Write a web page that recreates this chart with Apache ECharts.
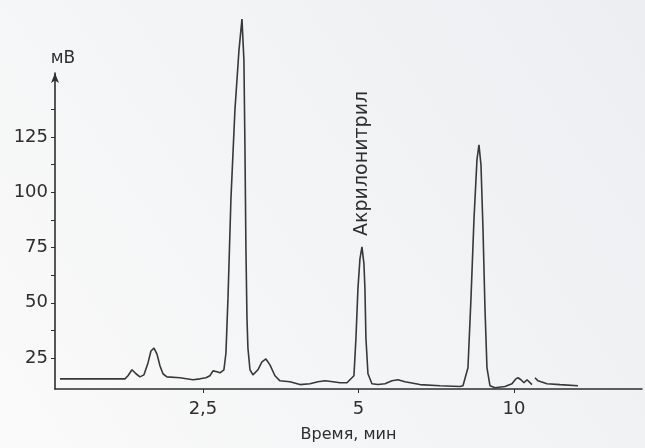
<!DOCTYPE html>
<html>
<head>
<meta charset="utf-8">
<script src="https://cdn.jsdelivr.net/npm/echarts@6/dist/echarts.min.js"></script>
<style>
  html, body { margin: 0; padding: 0; }
  #main { width: 645px; height: 448px; }
</style>
</head>
<body>
<div id="main"></div>
<script>
// retention time, min (axis is drawn on a log2 scale, as in the original)
const times = [
  1.322, 1.580, 1.766, 1.790, 1.822, 1.855, 1.888, 1.922, 1.957, 1.983,
  2.010, 2.037, 2.064, 2.092, 2.129, 2.257, 2.391, 2.467, 2.534, 2.579,
  2.614, 2.661, 2.697, 2.745, 2.770, 2.795, 2.832, 2.883, 2.935, 2.975,
  3.001, 3.015, 3.028, 3.042, 3.055, 3.083, 3.124, 3.194, 3.252, 3.310,
  3.370, 3.446, 3.524, 3.684, 3.852, 4.028, 4.174, 4.306, 4.462, 4.604,
  4.750, 4.814, 4.900, 4.944, 4.988, 5.033, 5.078, 5.123, 5.146, 5.169,
  5.216, 5.309, 5.454, 5.626, 5.805, 5.962, 6.151, 6.576, 7.190, 7.860,
  7.966, 8.145, 8.255, 8.366, 8.478, 8.554, 8.631, 8.709, 8.786, 8.865,
  8.984, 9.186, 9.605, 9.910, 10.088, 10.179, 10.315, 10.454, 10.596, 10.690,
  10.834, 10.900, 10.980, 11.128, 11.583, 12.274, 13.300
];
// detector signal, mV ('-' = break in the trace)
const signal = [
  15.6, 15.6, 15.6, 17.0, 19.7, 17.9, 16.5, 17.4, 22.8, 28.2,
  29.5, 26.8, 21.5, 17.9, 16.5, 16.1, 15.2, 15.6, 16.1, 17.0,
  19.2, 18.8, 18.3, 19.7, 27.3, 52.0, 96.8, 137.2, 164.1, 178.4,
  159.6, 119.2, 74.4, 43.0, 29.5, 19.7, 17.4, 19.7, 23.3, 24.6,
  21.9, 17.0, 14.7, 14.3, 13.0, 13.4, 14.3, 14.7, 14.3, 13.8,
  13.8, 15.2, 17.0, 34.0, 56.4, 69.9, 75.3, 67.7, 56.4, 34.0,
  17.9, 13.4, 13.0, 13.4, 14.7, 15.2, 14.3, 13.0, 12.5, 12.1,
  12.5, 20.6, 52.0, 87.8, 114.7, 121.5, 112.5, 83.4, 47.5, 20.6,
  12.5, 11.6, 12.1, 13.4, 15.6, 16.1, 15.2, 13.8, 15.2, 14.7,
  13.0, '-', 16.1, 14.7, 13.4, 13.0, 12.5
];
const xTickTimes = [2.5, 5, 10];
const yTickValues = [25, 37.5, 50, 62.5, 75, 87.5, 100, 112.5, 125, 137.5];
const yLabelValues = [25, 50, 75, 100, 125];
const peakName = 'Акрилонитрил';
const peakTime = 5.078;
const peakValue = 75.3;

const chart = echarts.init(document.getElementById('main'));
const ink = '#2e2e2e';
const font = '"DejaVu Sans", sans-serif';

const option = {
  backgroundColor: {
    type: 'linear', x: 1, y: 0, x2: 0, y2: 1,
    colorStops: [{ offset: 0, color: '#eceef1' }, { offset: 1, color: '#fafafa' }]
  },
  animation: false,
  grid: { left: 55, right: 3, top: 73, bottom: 57, containLabel: false },
  xAxis: {
    type: 'value',
    min: Math.log2(1.293),
    max: Math.log2(17.69),
    name: 'Время, мин',
    nameLocation: 'middle',
    nameGap: 38,
    nameTextStyle: { color: ink, fontSize: 16, fontFamily: font },
    axisLine: { lineStyle: { color: ink, width: 1.6 } },
    axisTick: { customValues: xTickTimes.map(Math.log2), length: 4, lineStyle: { color: ink } },
    axisLabel: {
      customValues: xTickTimes.map(Math.log2),
      color: ink, fontSize: 18, fontFamily: font, margin: 11,
      formatter: v => String(Math.round(Math.pow(2, v) * 100) / 100).replace('.', ',')
    },
    splitLine: { show: false }
  },
  yAxis: {
    type: 'value',
    min: 11,
    max: 154,
    name: 'мВ',
    nameGap: 6,
    nameTextStyle: { color: ink, fontSize: 17, fontFamily: font, padding: [0, 0, 0, 16] },
    axisLine: { show: true, symbol: ['none', 'arrow'], symbolSize: [6, 10], lineStyle: { color: ink, width: 1.6 } },
    axisTick: { customValues: yTickValues, length: 4, lineStyle: { color: ink } },
    axisLabel: { customValues: yLabelValues, color: ink, fontSize: 18, fontFamily: font, margin: 7 },
    splitLine: { show: false }
  },
  series: [{
    type: 'line',
    clip: false,
    showSymbol: false,
    lineStyle: { color: '#383838', width: 1.6 },
    data: times.map((t, i) => [Math.log2(t), signal[i]]),
    markPoint: {
      symbol: 'circle',
      symbolSize: 0,
      data: [{ coord: [Math.log2(peakTime), peakValue] }],
      label: {
        show: true,
        formatter: peakName,
        position: [0, -11],
        rotate: 90,
        align: 'left',
        verticalAlign: 'middle',
        color: ink,
        fontSize: 19,
        fontFamily: font
      }
    }
  }]
};

chart.setOption(option);
</script>
</body>
</html>
